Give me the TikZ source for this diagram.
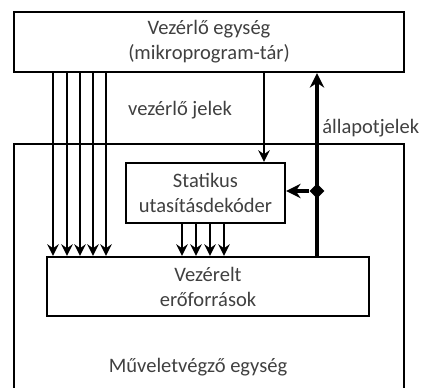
\documentclass[tikz,border=0pt]{standalone}
\usepackage{fontspec}
\setmainfont{Carlito}
\definecolor{txtGray}{HTML}{404040}
\usetikzlibrary{calc,positioning,arrows.meta,shapes.geometric}

\begin{document}
\begin{tikzpicture}[x=0.25mm, y=-0.25mm,
  block/.style={draw, line width=1.7pt, fill=white, text=txtGray, align=center,
    inner sep=0pt, font=\fontsize{14.6}{17.8}\selectfont},
  lbl/.style={text=txtGray, inner sep=0pt, font=\fontsize{14.6}{17.8}\selectfont},
  sig/.style={line width=1.4pt, -{Stealth[length=2.9mm, width=2.9mm, inset=1mm]}},
  stat/.style={line width=2.3pt, -{Stealth[length=3.6mm, width=3.6mm, inset=1.2mm]}},
  tapdot/.style={diamond, fill=black, inner sep=0pt, minimum size=3.8mm}
]
  \clip (0,0) rectangle (427,387);
  % execution unit, its lower edge runs off the page
  \node[block, minimum width=97.5mm, minimum height=65.5mm] (exec) at (209,275) {};
  \node[lbl] (execname) at (198,367) {Műveletvégző egység};

  \node[block, minimum width=97.5mm, minimum height=15mm] (ctrl) at (209,42) {
    Vezérlő egység\\
    (mikroprogram-tár)
  };
  \node[block, minimum width=39.75mm, minimum height=15mm] (dec) at (205.5,193) {
    Statikus\\
    utasításdekóder
  };
  \node[block, minimum width=80.5mm, minimum height=14.75mm] (res) at (208,286.5) {
    Vezérelt\\
    erőforrások
  };

  \node[lbl] (ctrllbl) at (180,110) {vezérlő jelek};
  \node[lbl, anchor=west] (statlbl) at (322,128) {állapotjelek};

  % control lines
  \foreach \x in {53,67,80,93,106}
    \draw[sig] (\x,0 |- ctrl.south) -- (\x,0 |- res.north);
  \draw[sig] (264,0 |- ctrl.south) -- (264,0 |- dec.north);
  \foreach \x in {182,196,210,224}
    \draw[sig] (\x,0 |- dec.south) -- (\x,0 |- res.north);

  % status signals back to the control unit
  \node[tapdot] (tap) at (317,191) {};
  \draw[stat] (317,0 |- res.north) -- (317,0 |- ctrl.south);
  \draw[stat] (tap) -- (tap -| dec.east);
\end{tikzpicture}
\end{document}
